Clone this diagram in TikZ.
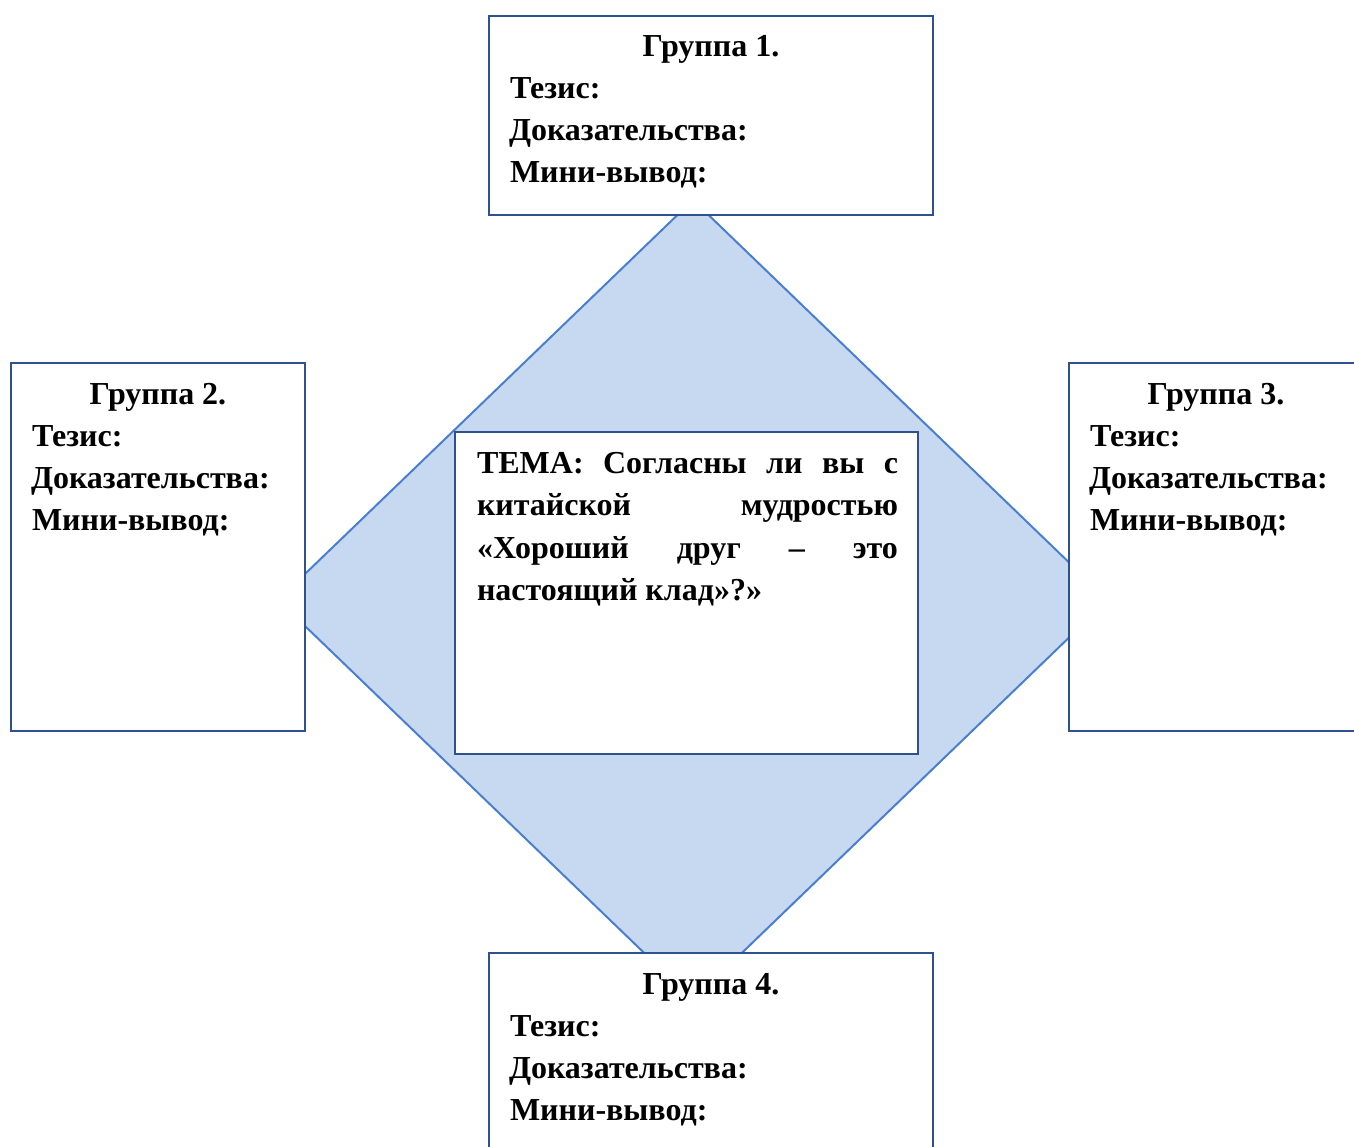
\documentclass[tikz,border=0pt]{standalone}
\usepackage{fontspec}
\setmainfont{Liberation Serif}
\definecolor{boxline}{HTML}{2F528F}
\definecolor{dline}{HTML}{4A7FD0}
\definecolor{dfill}{HTML}{C6D9F0}
\begin{document}
\begin{tikzpicture}[x=1pt,y=-1pt,
  gbox/.style={draw=boxline,fill=white,line width=2pt,rectangle,inner sep=0pt,outer sep=0pt},
  dshape/.style={draw=dline,fill=dfill,line width=2pt,line join=miter},
  txt/.style={inner sep=0pt,outer sep=0pt,font=\bfseries\fontsize{32}{42}\selectfont},
  ln/.style={txt,anchor=base west},
  ttl/.style={txt,anchor=base}]
\useasboundingbox (0,0) rectangle (1354,1147);
\clip (0,0) rectangle (1354,1147);
\fill[white] (0,0) rectangle (1354,1147);
% diamond
\coordinate (dt) at (693,200);
\coordinate (dr) at (1108,600);
\coordinate (db) at (693,1000);
\coordinate (dl) at (278,600);
\path[dshape] (dt) -- (dr) -- (db) -- (dl) -- cycle;
% boxes
\node[gbox,minimum width=444pt,minimum height=199pt] (g1) at (711,115.5) {};
\node[gbox,minimum width=294pt,minimum height=368pt] (g2) at (158,547) {};
\node[gbox,minimum width=311pt,minimum height=368pt] (g3) at (1224.5,547) {};
\node[gbox,minimum width=444pt,minimum height=207pt] (g4) at (711,1056.5) {};
\node[gbox,minimum width=463pt,minimum height=322pt] (c) at (686.5,593) {};
% group 1
\node[ttl] (g1t) at (711,57) {Группа 1.};
\node[ln] (g1a) at (510,99) {Тезис:};
\node[ln] (g1b) at (509,141) {Доказательства:};
\node[ln] (g1c) at (510,183) {Мини-вывод:};
% group 2
\node[ttl] (g2t) at (158,404) {Группа 2.};
\node[ln] (g2a) at (32,446) {Тезис:};
\node[ln] (g2b) at (31,488) {Доказательства:};
\node[ln] (g2c) at (32,530) {Мини-вывод:};
% group 3
\node[ttl] (g3t) at (1216,404) {Группа 3.};
\node[ln] (g3a) at (1090,446) {Тезис:};
\node[ln] (g3b) at (1089,488) {Доказательства:};
\node[ln] (g3c) at (1090,530) {Мини-вывод:};
% group 4
\node[ttl] (g4t) at (711,994) {Группа 4.};
\node[ln] (g4a) at (510,1036) {Тезис:};
\node[ln] (g4b) at (509,1078) {Доказательства:};
\node[ln] (g4c) at (510,1120) {Мини-вывод:};
% centre text
\node[ln] (c1) at (477,473) {\makebox[421pt][s]{ТЕМА: Согласны ли вы с}};
\node[ln] (c2) at (477,515) {\makebox[421pt][s]{китайской мудростью}};
\node[ln] (c3) at (477,558) {\makebox[421pt][s]{«Хороший друг – это}};
\node[ln] (c4) at (477,600) {настоящий клад»?»};
\end{tikzpicture}
\end{document}
